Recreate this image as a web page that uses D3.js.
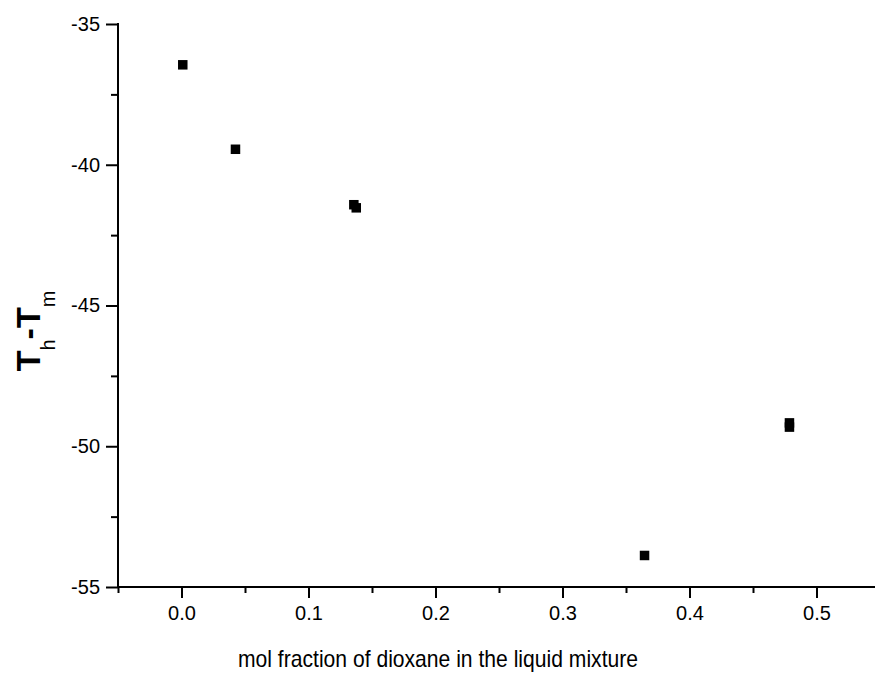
<!DOCTYPE html>
<html>
<head>
<meta charset="utf-8">
<script src="https://cdn.jsdelivr.net/npm/d3@7"></script>
<style>
  body { margin: 0; background: #fff; }
  text { font-family: "Liberation Sans", Arial, sans-serif; }
</style>
</head>
<body>
<div id="chart"></div>
<script>
var width = 875, height = 675;

// mol fraction of dioxane (x) and T_h - T_m (y)
var molFraction = [0.001, 0.0425, 0.1357, 0.1376, 0.3646, 0.4787, 0.4787];
var tempDiff = [-36.45, -39.45, -41.42, -41.53, -53.88, -49.17, -49.32];

var xMajorTicks = [0.0, 0.1, 0.2, 0.3, 0.4, 0.5];
var xMinorTicks = [-0.05, 0.05, 0.15, 0.25, 0.35, 0.45, 0.55];
var yMajorTicks = [-55, -50, -45, -40, -35];
var yMinorTicks = [-52.5, -47.5, -42.5, -37.5];

var x = d3.scaleLinear().domain([-0.05, 0.55]).range([118, 880]);
var y = d3.scaleLinear().domain([-55, -35]).range([587, 24]);

var svg = d3.select("#chart").append("svg")
    .attr("width", width).attr("height", height);

var x0 = x(-0.05), y0 = y(-55);

// minor ticks first
svg.append("g")
    .attr("transform", "translate(0," + y0 + ")")
    .call(d3.axisBottom(x).tickValues(xMinorTicks).tickSize(6).tickSizeOuter(0).tickFormat(""))
    .call(function(g){ g.select(".domain").remove(); });

svg.append("g")
    .attr("transform", "translate(" + x0 + ",0)")
    .call(d3.axisLeft(y).tickValues(yMinorTicks).tickSize(7).tickSizeOuter(0).tickFormat(""))
    .call(function(g){ g.select(".domain").remove(); });

var xAxis = svg.append("g")
    .attr("transform", "translate(0," + y0 + ")")
    .call(d3.axisBottom(x).tickValues(xMajorTicks).tickSize(11).tickSizeOuter(0).tickPadding(8)
        .tickFormat(function(d){ return d.toFixed(1); }));

var yAxis = svg.append("g")
    .attr("transform", "translate(" + x0 + ",0)")
    .call(d3.axisLeft(y).tickValues(yMajorTicks).tickSize(12).tickSizeOuter(0).tickPadding(6)
        .tickFormat(function(d){ return String(d); }));

svg.selectAll(".domain, .tick line")
    .attr("stroke", "#000").attr("stroke-width", 2);

xAxis.selectAll(".domain").attr("d", "M" + (x0 - 1) + ",0H" + width);
yAxis.selectAll(".domain").attr("d", "M0," + (y(-35) - 1) + "V" + (y0 + 1));

svg.selectAll(".tick text")
    .attr("fill", "#000")
    .style("font-size", "20px");

// data points
var points = d3.range(molFraction.length).map(function(i){
    return {x: molFraction[i], y: tempDiff[i]};
});

var size = 9.5;
svg.append("g").selectAll("rect")
    .data(points)
    .enter().append("rect")
    .attr("x", function(d){ return x(d.x) - size / 2; })
    .attr("y", function(d){ return y(d.y) - size / 2; })
    .attr("width", size)
    .attr("height", size)
    .attr("fill", "#000");

// axis titles
svg.append("text")
    .attr("x", 238)
    .attr("y", 667)
    .attr("textLength", 400)
    .attr("lengthAdjust", "spacingAndGlyphs")
    .style("font-size", "24px")
    .text("mol fraction of dioxane in the liquid mixture");

var ylab = svg.append("text")
    .attr("transform", "translate(40,331) rotate(-90)")
    .attr("text-anchor", "middle")
    .style("font-size", "34px")
    .style("font-weight", "bold");

ylab.append("tspan").text("T");
ylab.append("tspan").text("h").attr("dy", 15).style("font-size", "20px").style("font-weight", "normal");
ylab.append("tspan").text("-T").attr("dy", -15);
ylab.append("tspan").text("m").attr("dy", 15).style("font-size", "20px").style("font-weight", "normal");
</script>
</body>
</html>
